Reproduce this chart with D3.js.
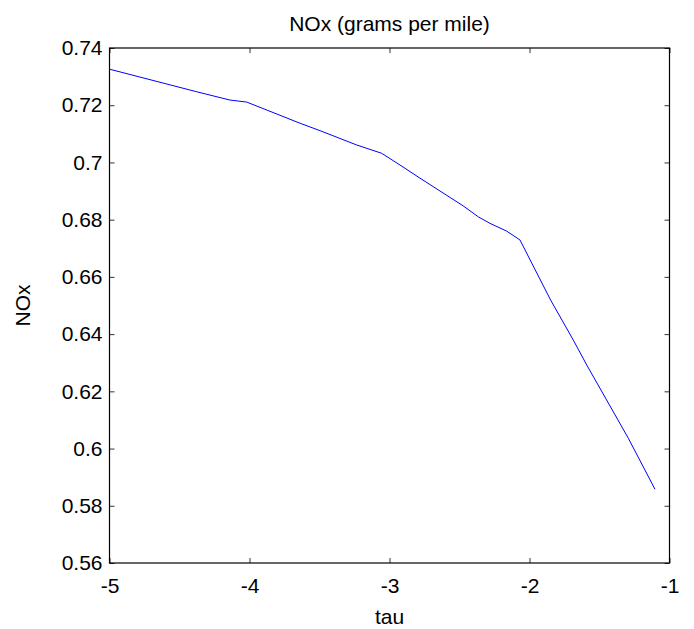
<!DOCTYPE html>
<html>
<head>
<meta charset="utf-8">
<script src="https://cdn.jsdelivr.net/npm/d3@7"></script>
<style>
  html, body { margin: 0; padding: 0; background: #fff; }
  svg { display: block; }
  text { font-family: "Liberation Sans", Arial, sans-serif; }
</style>
</head>
<body>
<svg id="chart" width="694" height="629"></svg>
<script>
// NOx emissions versus tau
const tau = [-5, -4.377, -4.139, -4.02, -3.639, -3.496, -3.234, -3.056, -2.925, -2.782,
             -2.473, -2.366, -2.282, -2.163, -2.068, -1.849, -1.687, -1.591, -1.294, -1.104];
const nox = [0.7326, 0.7247, 0.7218, 0.7211, 0.7137, 0.7111, 0.7061, 0.7032, 0.6991, 0.6945,
             0.6848, 0.6810, 0.6787, 0.6760, 0.6729, 0.6519, 0.6379, 0.6292, 0.6036, 0.5858];
const xTicks = [-5, -4, -3, -2, -1];
const yTicks = [0.56, 0.58, 0.6, 0.62, 0.64, 0.66, 0.68, 0.7, 0.72, 0.74];

const titleText = "NOx (grams per mile)";
const xLabel = "tau";
const yLabel = "NOx";

const svg = d3.select("#chart");
const plotL = 109.5, plotR = 669.5, plotT = 48, plotB = 563;

const x = d3.scaleLinear().domain([-5, -1]).range([plotL, plotR]);
const y = d3.scaleLinear().domain([0.56, 0.74]).range([plotB, plotT]);

const fontSize = 21;
const tickLen = 5;

// bottom axis with labels (plain hyphen for negatives)
const gx = svg.append("g").attr("transform", `translate(0,${plotB})`)
  .call(d3.axisBottom(x).tickValues(xTicks).tickSize(-tickLen).tickPadding(15)
        .tickFormat(d => String(d)));
// top axis, ticks only
const gxTop = svg.append("g").attr("transform", `translate(0,${plotT})`)
  .call(d3.axisTop(x).tickValues(xTicks).tickSize(-tickLen).tickFormat(""));
// left axis with labels
const gy = svg.append("g").attr("transform", `translate(${plotL},0)`)
  .call(d3.axisLeft(y).tickValues(yTicks).tickSize(-tickLen).tickPadding(7)
        .tickFormat(d => String(+d.toFixed(2))));
// right axis, ticks only
const gyRight = svg.append("g").attr("transform", `translate(${plotR},0)`)
  .call(d3.axisRight(y).tickValues(yTicks).tickSize(-tickLen).tickFormat(""));

[gx, gxTop, gy, gyRight].forEach(g => {
  g.select(".domain").remove();
  g.selectAll(".tick line").attr("stroke", "#333").attr("stroke-width", 1);
  g.selectAll(".tick text").attr("font-size", fontSize).attr("fill", "#000")
    .attr("font-family", "Liberation Sans, Arial, sans-serif");
});

// plot box
svg.append("rect").attr("x", plotL).attr("y", plotT)
  .attr("width", plotR - plotL).attr("height", plotB - plotT)
  .attr("fill", "none").attr("stroke", "#000").attr("stroke-width", 1.2);

// data line
const line = d3.line().x((d, i) => x(tau[i])).y((d, i) => y(nox[i]));
svg.append("path").datum(nox).attr("d", line)
  .attr("fill", "none").attr("stroke", "#0000ff").attr("stroke-width", 1);

// title and axis labels
svg.append("text").attr("x", (plotL + plotR) / 2).attr("y", 31)
  .attr("text-anchor", "middle").attr("font-size", fontSize).text(titleText);
svg.append("text").attr("x", (plotL + plotR) / 2).attr("y", 624)
  .attr("text-anchor", "middle").attr("font-size", fontSize).text(xLabel);
svg.append("text").attr("transform", `translate(30,${(plotT + plotB) / 2}) rotate(-90)`)
  .attr("text-anchor", "middle").attr("font-size", fontSize).text(yLabel);
</script>
</body>
</html>
